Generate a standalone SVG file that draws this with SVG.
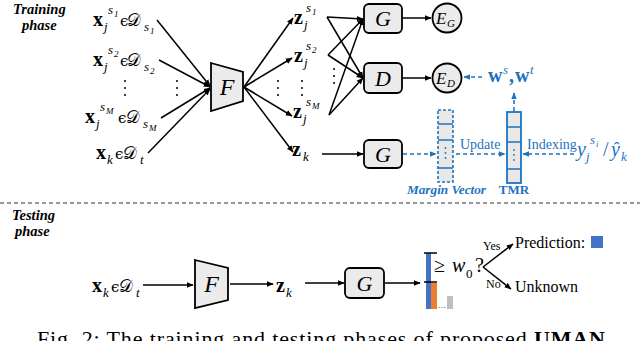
<svg xmlns="http://www.w3.org/2000/svg" width="640" height="341" viewBox="0 0 640 341">
<style>
text{font-family:"Liberation Serif",serif;fill:#000}
.b{font-weight:bold}
.i{font-style:italic}
.bi{font-weight:bold;font-style:italic}
.m{font-size:20px}
.s{font-size:13px;font-style:italic}
.ss{font-size:9px;font-style:italic}
.ep{font-family:"DejaVu Serif",serif;font-size:15px}
.scr{font-family:"DejaVu Serif","DejaVu Sans",serif;font-size:17px}
.bl{fill:#1e73be}
.box{fill:#ebebeb;stroke:#000;stroke-width:1.8}
.ln{stroke:#000;stroke-width:1.5;fill:none}
.ar{marker-end:url(#ah)}
.bd{stroke:#1e73be;stroke-width:1.6;stroke-dasharray:4 3;fill:none;marker-end:url(#abl)}
.dot{fill:#000}
</style>
<defs>
<marker id="ah" viewBox="0 0 10 10" refX="9" refY="5" markerWidth="7" markerHeight="7" markerUnits="userSpaceOnUse" orient="auto"><path d="M0,1 L10,5 L0,9 z" fill="#000"/></marker>
<marker id="abl" viewBox="0 0 10 10" refX="9" refY="5" markerWidth="7" markerHeight="7" markerUnits="userSpaceOnUse" orient="auto"><path d="M0,1 L10,5 L0,9 z" fill="#1e73be"/></marker>
</defs>

<g id="labels-phase">
<text class="bi" x="13" y="14" font-size="14.5">Training</text>
<text class="bi" x="22" y="30" font-size="14.5">phase</text>
<text class="bi" x="12" y="220" font-size="14.5">Testing</text>
<text class="bi" x="15" y="236" font-size="14.5">phase</text>
</g>

<g id="connectors">
<line class="ln ar" x1="157" y1="20" x2="210" y2="86"/>
<line class="ln ar" x1="159" y1="60" x2="210" y2="87"/>
<line class="ln ar" x1="161" y1="118" x2="210" y2="88"/>
<line class="ln ar" x1="148" y1="153" x2="210" y2="89"/>
<line class="ln ar" x1="244" y1="87" x2="293" y2="18"/>
<line class="ln ar" x1="244" y1="87" x2="292" y2="58"/>
<line class="ln ar" x1="244" y1="87" x2="292" y2="116"/>
<line class="ln ar" x1="244" y1="87" x2="293" y2="152"/>
<line class="ln ar" x1="327" y1="17" x2="363" y2="19"/>
<line class="ln ar" x1="327" y1="17" x2="363" y2="78"/>
<line class="ln ar" x1="328" y1="55" x2="363" y2="19"/>
<line class="ln ar" x1="328" y1="55" x2="363" y2="78"/>
<line class="ln ar" x1="329" y1="115" x2="363" y2="19"/>
<line class="ln ar" x1="329" y1="115" x2="363" y2="78"/>
<line class="ln ar" x1="322" y1="154" x2="363" y2="154"/>
<line class="ln ar" x1="402" y1="18" x2="431" y2="18"/>
<line class="ln ar" x1="402" y1="78" x2="431" y2="78"/>
<line class="bd" x1="482" y1="77" x2="464" y2="77"/>
<line class="bd" x1="514" y1="111" x2="514" y2="93"/>
<line class="bd" x1="403" y1="154" x2="436" y2="154"/>
<line class="bd" x1="456" y1="154" x2="505" y2="154"/>
<line class="bd" x1="574" y1="154" x2="523" y2="154"/>
<line class="ln ar" x1="143" y1="285" x2="193" y2="285"/>
<line class="ln ar" x1="230" y1="284" x2="273" y2="284"/>
<line class="ln ar" x1="305" y1="283" x2="344" y2="283"/>
<line class="ln ar" x1="385" y1="283" x2="420" y2="283"/>
<line class="ln ar" x1="483" y1="267" x2="513" y2="244"/>
<line class="ln ar" x1="483" y1="267" x2="511" y2="289"/>
</g>

<g id="inputs">
<text class="m"><tspan class="b" x="93" y="26">x</tspan><tspan class="s" x="104" y="31">j</tspan><tspan class="s" x="108" y="14">s</tspan><tspan class="ss" x="114" y="17">1</tspan><tspan class="ep" x="120" y="26">ϵ</tspan><tspan class="scr" x="127" y="26">𝒟</tspan><tspan class="s" x="144" y="31">s</tspan><tspan class="ss" x="150" y="34">1</tspan></text>
<text class="m"><tspan class="b" x="93" y="66">x</tspan><tspan class="s" x="104" y="71">j</tspan><tspan class="s" x="108" y="54">s</tspan><tspan class="ss" x="114" y="57">2</tspan><tspan class="ep" x="120" y="66">ϵ</tspan><tspan class="scr" x="127" y="66">𝒟</tspan><tspan class="s" x="144" y="71">s</tspan><tspan class="ss" x="150" y="74">2</tspan></text>
<text class="m"><tspan class="b" x="85" y="123">x</tspan><tspan class="s" x="96" y="128">j</tspan><tspan class="s" x="100" y="111">s</tspan><tspan class="ss" x="106" y="114">M</tspan><tspan class="ep" x="118" y="123">ϵ</tspan><tspan class="scr" x="126" y="123">𝒟</tspan><tspan class="s" x="143" y="128">s</tspan><tspan class="ss" x="149" y="131">M</tspan></text>
<text class="m"><tspan class="b" x="96" y="159">x</tspan><tspan class="s" x="107" y="164">k</tspan><tspan class="ep" x="115" y="159">ϵ</tspan><tspan class="scr" x="123" y="159">𝒟</tspan><tspan class="s" x="140" y="164">t</tspan></text>
<circle class="dot" cx="125" cy="81" r="1"/><circle class="dot" cx="125" cy="88" r="1"/><circle class="dot" cx="125" cy="95" r="1"/>
<circle class="dot" cx="177" cy="81" r="1"/><circle class="dot" cx="177" cy="88" r="1"/><circle class="dot" cx="177" cy="95" r="1"/>
</g>

<g id="F-train">
<polygon class="box" points="211,63 243,72 243,101 211,111"/>
<text class="i" x="227" y="95" font-size="24" text-anchor="middle">F</text>
</g>

<g id="z-labels">
<text class="m"><tspan class="b" x="294" y="24">z</tspan><tspan class="s" x="304" y="29">j</tspan><tspan class="s" x="306" y="12">s</tspan><tspan class="ss" x="312" y="15">1</tspan></text>
<text class="m"><tspan class="b" x="294" y="62">z</tspan><tspan class="s" x="304" y="67">j</tspan><tspan class="s" x="306" y="50">s</tspan><tspan class="ss" x="312" y="53">2</tspan></text>
<text class="m"><tspan class="b" x="293" y="118">z</tspan><tspan class="s" x="303" y="123">j</tspan><tspan class="s" x="306" y="106">s</tspan><tspan class="ss" x="312" y="109">M</tspan></text>
<text class="m"><tspan class="b" x="292" y="156">z</tspan><tspan class="s" x="303" y="161">k</tspan></text>
<circle class="dot" cx="278" cy="81" r="1"/><circle class="dot" cx="278" cy="88" r="1"/><circle class="dot" cx="278" cy="95" r="1"/>
<circle class="dot" cx="302" cy="81" r="1"/><circle class="dot" cx="302" cy="88" r="1"/><circle class="dot" cx="302" cy="95" r="1"/>
<circle class="dot" cx="334" cy="69" r="1"/><circle class="dot" cx="334" cy="76" r="1"/><circle class="dot" cx="334" cy="83" r="1"/>
</g>

<g id="G1"><rect class="box" x="364" y="4" width="38" height="29" rx="5"/><text class="i" x="383" y="26" font-size="22" text-anchor="middle">G</text></g>
<g id="D"><rect class="box" x="364" y="63" width="38" height="30" rx="5"/><text class="i" x="383" y="86" font-size="22" text-anchor="middle">D</text></g>
<g id="G3"><rect class="box" x="364" y="140" width="38" height="28" rx="5"/><text class="i" x="383" y="162" font-size="22" text-anchor="middle">G</text></g>

<g id="EG"><circle class="box" cx="447" cy="18" r="14.5"/><text class="i" font-size="17"><tspan x="436" y="24">E</tspan><tspan x="447" y="27" font-size="11">G</tspan></text></g>
<g id="ED"><circle class="box" cx="447" cy="78" r="14.5"/><text class="i" font-size="17"><tspan x="436" y="84">E</tspan><tspan x="447" y="87" font-size="11">D</tspan></text></g>

<g id="weights">
<text class="bl m"><tspan class="b" x="488" y="82">w</tspan><tspan class="s bl" x="503" y="74">s</tspan><tspan class="b" x="509" y="82">,</tspan><tspan class="b" x="515" y="82">w</tspan><tspan class="s bl" x="530" y="74">t</tspan></text>
</g>

<g id="margin-vector">
<rect x="438" y="110" width="15" height="72" fill="#e8e8e8" stroke="#1e73be" stroke-width="1.6" stroke-dasharray="3 2"/>
<line x1="438" y1="124" x2="453" y2="124" stroke="#1e73be" stroke-width="1.5"/>
<line x1="438" y1="140" x2="453" y2="140" stroke="#1e73be" stroke-width="1.5"/>
<line x1="438" y1="168" x2="453" y2="168" stroke="#1e73be" stroke-width="1.5"/>
<circle cx="445.5" cy="148" r="0.9" fill="#1e73be"/><circle cx="445.5" cy="153" r="0.9" fill="#1e73be"/><circle cx="445.5" cy="158" r="0.9" fill="#1e73be"/>
<text class="bi bl" x="407" y="194" font-size="13" textLength="79" lengthAdjust="spacingAndGlyphs">Margin Vector</text>
</g>

<g id="TMR">
<rect x="507" y="112" width="14" height="71" fill="#e8e8e8" stroke="#1e73be" stroke-width="1.8"/>
<line x1="507" y1="127" x2="521" y2="127" stroke="#1e73be" stroke-width="1.5"/>
<line x1="507" y1="142" x2="521" y2="142" stroke="#1e73be" stroke-width="1.5"/>
<line x1="507" y1="169" x2="521" y2="169" stroke="#1e73be" stroke-width="1.5"/>
<circle cx="514" cy="150" r="0.9" fill="#1e73be"/><circle cx="514" cy="155" r="0.9" fill="#1e73be"/><circle cx="514" cy="160" r="0.9" fill="#1e73be"/>
<text class="b bl" x="514" y="194" font-size="13" text-anchor="middle">TMR</text>
</g>

<g id="blue-labels">
<text class="bl" x="460" y="149" font-size="14">Update</text>
<text class="bl" x="527" y="149" font-size="14">Indexing</text>
<text class="bl" font-size="20"><tspan class="i" x="577" y="156">y</tspan><tspan class="s bl" x="586" y="161">j</tspan><tspan class="s bl" x="590" y="144">s</tspan><tspan class="ss bl" x="596" y="147">i</tspan><tspan x="603" y="156">/</tspan><tspan class="i" x="611" y="156">ŷ</tspan><tspan class="s bl" x="621" y="161">k</tspan></text>
</g>

<g id="separator"><line x1="0" y1="203" x2="640" y2="203" stroke="#333" stroke-width="1.2" stroke-dasharray="4 3"/></g>

<g id="test-input">
<text class="m"><tspan class="b" x="92" y="292">x</tspan><tspan class="s" x="103" y="297">k</tspan><tspan class="ep" x="111" y="292">ϵ</tspan><tspan class="scr" x="119" y="292">𝒟</tspan><tspan class="s" x="136" y="297">t</tspan></text>
</g>
<g id="F-test">
<polygon class="box" points="195,260 228,268 228,300 195,308"/>
<text class="i" x="211.5" y="292" font-size="24" text-anchor="middle">F</text>
</g>
<g id="z-test"><text class="m"><tspan class="b" x="276" y="292">z</tspan><tspan class="s" x="286" y="297">k</tspan></text></g>
<g id="G-test"><rect class="box" x="345" y="268" width="39" height="30" rx="5"/><text class="i" x="364.5" y="291" font-size="22" text-anchor="middle">G</text></g>

<g id="bars">
<rect x="426" y="253" width="5" height="56" fill="#4472c4"/>
<rect x="431" y="283" width="6" height="26" fill="#ed7d31"/>
<rect x="447" y="296" width="6" height="13" fill="#bfbfbf"/>
<line x1="424" y1="253" x2="437" y2="253" stroke="#000" stroke-width="1.5"/>
<line x1="424" y1="282" x2="437" y2="282" stroke="#000" stroke-width="1.5"/>
<text x="438" y="308" font-size="8" fill="#888">…</text>
</g>

<g id="threshold">
<text font-size="20"><tspan x="434" y="272">≥</tspan><tspan class="i" x="452" y="272">w</tspan><tspan x="466" y="278" font-size="13">0</tspan><tspan x="475" y="272">?</tspan></text>
<text x="483" y="250" font-size="12">Yes</text>
<text x="486" y="288" font-size="12">No</text>
</g>

<g id="prediction">
<text x="515" y="248" font-size="16">Prediction:</text>
<rect x="591" y="236" width="12" height="12" fill="#4472c4"/>
</g>
<g id="unknown"><text x="515" y="292" font-size="16">Unknown</text></g>

<g id="caption">
<text x="37" y="346" font-size="22" textLength="568" lengthAdjust="spacing">Fig. 2: The training and testing phases of proposed <tspan class="b">UMAN</tspan></text>
</g>
</svg>
